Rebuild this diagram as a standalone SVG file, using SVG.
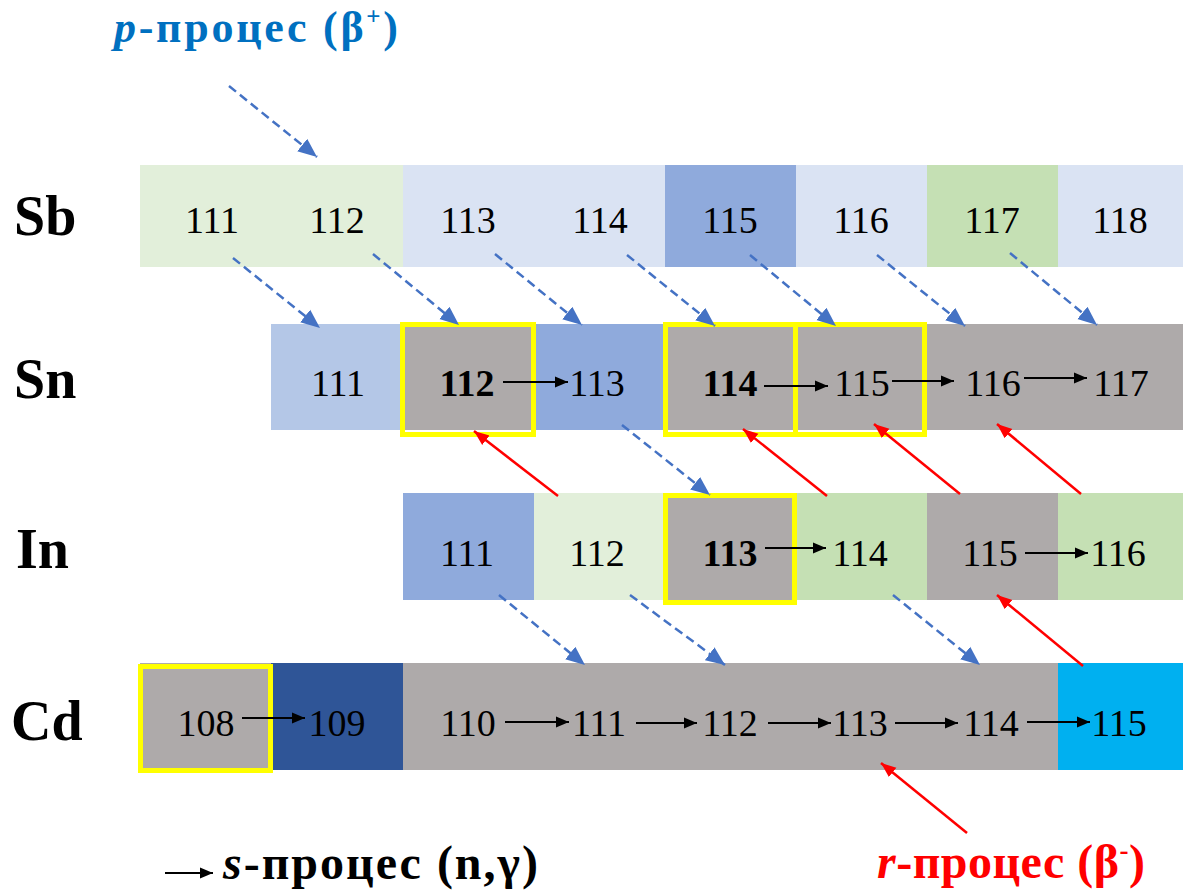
<svg xmlns="http://www.w3.org/2000/svg" width="1183" height="890" viewBox="0 0 1183 890">
<defs>
<style>
.num{font-family:"Liberation Serif","Times New Roman",serif;font-size:38px;fill:#000;text-anchor:middle}
.b{font-weight:bold}
.el{font-family:"Liberation Serif","Times New Roman",serif;font-size:56px;font-weight:bold;fill:#000}
.ttl{font-family:"Liberation Serif","Times New Roman",serif;font-weight:bold}
.hl{fill:none;stroke:#FFFF00;stroke-width:5}
.pb{stroke:#4472C4;stroke-width:2.5;stroke-dasharray:9 5;fill:none}
.rb{stroke:#FF0000;stroke-width:2.5;fill:none}
.sk{stroke:#000;stroke-width:2.2;fill:none}
</style>
<marker id="mb" markerUnits="userSpaceOnUse" markerWidth="20" markerHeight="18" refX="19" refY="9" orient="auto"><path d="M0,1 L19,9 L0,17 z" fill="#4472C4"/></marker>
<marker id="mr" markerUnits="userSpaceOnUse" markerWidth="16" markerHeight="14" refX="15" refY="7" orient="auto"><path d="M0,1 L15,7 L0,13 z" fill="#FF0000"/></marker>
<marker id="mk" markerUnits="userSpaceOnUse" markerWidth="14" markerHeight="12" refX="13" refY="6" orient="auto"><path d="M0,0.5 L13,6 L0,11.5 z" fill="#000"/></marker>
</defs>
<rect width="1183" height="890" fill="#fff"/>

<g id="titles">
<text class="ttl" x="114" y="42" font-size="44" fill="#0070C0" textLength="284" lengthAdjust="spacing"><tspan font-style="italic">p</tspan>-процес (β<tspan font-size="25" dy="-17">+</tspan><tspan dy="17">)</tspan></text>
<text class="ttl" x="223" y="879" font-size="48" fill="#000" textLength="315" lengthAdjust="spacing"><tspan font-style="italic">s</tspan>-процес (n,γ)</text>
<text class="ttl" x="877" y="878" font-size="48" fill="#FF0000" textLength="268" lengthAdjust="spacing"><tspan font-style="italic">r</tspan>-процес (β<tspan font-size="27" dy="-19">-</tspan><tspan dy="19">)</tspan></text>
</g>

<g id="labels">
<text class="el" x="14" y="235">Sb</text>
<text class="el" x="14" y="398">Sn</text>
<text class="el" x="16" y="568">In</text>
<text class="el" x="11" y="740">Cd</text>
</g>

<g id="row-Sb">
<g id="Sb111"><rect x="140" y="165" width="131" height="102" fill="#E2EFDA"/><text class="num" x="212" y="233">111</text></g>
<g id="Sb112"><rect x="271" y="165" width="132" height="102" fill="#E2EFDA"/><text class="num" x="337" y="233">112</text></g>
<g id="Sb113"><rect x="403" y="165" width="131" height="102" fill="#DAE3F3"/><text class="num" x="468" y="233">113</text></g>
<g id="Sb114"><rect x="534" y="165" width="131" height="102" fill="#DAE3F3"/><text class="num" x="600" y="233">114</text></g>
<g id="Sb115"><rect x="665" y="165" width="131" height="102" fill="#8FAADC"/><text class="num" x="730" y="233">115</text></g>
<g id="Sb116"><rect x="796" y="165" width="131" height="102" fill="#DAE3F3"/><text class="num" x="861" y="233">116</text></g>
<g id="Sb117"><rect x="927" y="165" width="131" height="102" fill="#C5E0B4"/><text class="num" x="992" y="233">117</text></g>
<g id="Sb118"><rect x="1058" y="165" width="125" height="102" fill="#DAE3F3"/><text class="num" x="1120" y="233">118</text></g>
</g>

<g id="row-Sn">
<g id="Sn111"><rect x="271" y="324" width="132" height="106" fill="#B4C7E7"/><text class="num" x="338" y="396">111</text></g>
<g id="Sn113"><rect x="534" y="324" width="131" height="106" fill="#8FAADC"/><text class="num" x="597" y="396">113</text></g>
<g id="Sn116"><rect x="927" y="324" width="131" height="106" fill="#AEAAAA"/><text class="num" x="993" y="396">116</text></g>
<g id="Sn117"><rect x="1058" y="324" width="125" height="106" fill="#AEAAAA"/><text class="num" x="1121" y="396">117</text></g>
<g id="Sn112"><rect x="403" y="324" width="131" height="106" fill="#AEAAAA"/><rect class="hl" x="402.5" y="324.5" width="131" height="110"/><text class="num b" x="467" y="396">112</text></g>
<g id="Sn114"><rect x="665" y="324" width="131" height="106" fill="#AEAAAA"/><rect class="hl" x="665.5" y="324.5" width="130" height="110"/><text class="num b" x="730" y="396">114</text></g>
<g id="Sn115"><rect x="796" y="324" width="131" height="106" fill="#AEAAAA"/><rect class="hl" x="795.5" y="324.5" width="129" height="110"/><text class="num" x="862" y="396">115</text></g>
</g>

<g id="row-In">
<g id="In111"><rect x="403" y="493" width="131" height="107" fill="#8FAADC"/><text class="num" x="467" y="566">111</text></g>
<g id="In112"><rect x="534" y="493" width="131" height="107" fill="#E2EFDA"/><text class="num" x="597" y="566">112</text></g>
<g id="In114"><rect x="796" y="493" width="131" height="107" fill="#C5E0B4"/><text class="num" x="860" y="566">114</text></g>
<g id="In115"><rect x="927" y="493" width="131" height="107" fill="#AEAAAA"/><text class="num" x="990" y="566">115</text></g>
<g id="In116"><rect x="1058" y="493" width="125" height="107" fill="#C5E0B4"/><text class="num" x="1118" y="566">116</text></g>
<g id="In113"><rect x="665" y="493" width="131" height="107" fill="#AEAAAA"/><rect class="hl" x="665.5" y="495.5" width="129" height="107"/><text class="num b" x="730" y="566">113</text></g>
</g>

<g id="row-Cd">
<g id="Cd109"><rect x="271" y="663" width="132" height="107" fill="#2F5597"/><text class="num" x="337" y="736">109</text></g>
<g id="Cd110-114"><rect x="403" y="663" width="655" height="107" fill="#AEAAAA"/>
<text class="num" x="468" y="736">110</text><text class="num" x="599" y="736">111</text><text class="num" x="730" y="736">112</text><text class="num" x="860" y="736">113</text><text class="num" x="991" y="736">114</text></g>
<g id="Cd115"><rect x="1058" y="663" width="125" height="107" fill="#00B0F0"/><text class="num" x="1119" y="736">115</text></g>
<g id="Cd108"><rect x="140" y="663" width="131" height="107" fill="#AEAAAA"/><rect class="hl" x="140.5" y="666.5" width="130" height="104"/><text class="num" x="206" y="736">108</text></g>
</g>

<g id="connectors">
<line class="pb" x1="229" y1="86" x2="317" y2="157" marker-end="url(#mb)"/>
<line class="pb" x1="233" y1="258" x2="320" y2="328" marker-end="url(#mb)"/>
<line class="pb" x1="373" y1="254" x2="459" y2="325" marker-end="url(#mb)"/>
<line class="pb" x1="495" y1="254" x2="582" y2="325" marker-end="url(#mb)"/>
<line class="pb" x1="627" y1="255" x2="715" y2="326" marker-end="url(#mb)"/>
<line class="pb" x1="750" y1="255" x2="836" y2="326" marker-end="url(#mb)"/>
<line class="pb" x1="877" y1="255" x2="965" y2="326" marker-end="url(#mb)"/>
<line class="pb" x1="1010" y1="253" x2="1097" y2="325" marker-end="url(#mb)"/>
<line class="pb" x1="622" y1="425" x2="710" y2="495" marker-end="url(#mb)"/>
<line class="pb" x1="499" y1="595" x2="585" y2="665" marker-end="url(#mb)"/>
<line class="pb" x1="630" y1="595" x2="725" y2="665" marker-end="url(#mb)"/>
<line class="pb" x1="893" y1="595" x2="980" y2="665" marker-end="url(#mb)"/>
<line class="rb" x1="558" y1="496" x2="474" y2="431" marker-end="url(#mr)"/>
<line class="rb" x1="827" y1="496" x2="743" y2="429" marker-end="url(#mr)"/>
<line class="rb" x1="960" y1="494" x2="874" y2="424" marker-end="url(#mr)"/>
<line class="rb" x1="1081" y1="494" x2="997" y2="424" marker-end="url(#mr)"/>
<line class="rb" x1="1083" y1="666" x2="997" y2="595" marker-end="url(#mr)"/>
<line class="rb" x1="967" y1="833" x2="881" y2="763" marker-end="url(#mr)"/>
<line class="sk" x1="503" y1="382" x2="568" y2="382" marker-end="url(#mk)"/>
<line class="sk" x1="764" y1="386" x2="828" y2="386" marker-end="url(#mk)"/>
<line class="sk" x1="892" y1="381" x2="954" y2="381" marker-end="url(#mk)"/>
<line class="sk" x1="1024" y1="378" x2="1087" y2="378" marker-end="url(#mk)"/>
<line class="sk" x1="765" y1="548" x2="826" y2="548" marker-end="url(#mk)"/>
<line class="sk" x1="1025" y1="553" x2="1088" y2="553" marker-end="url(#mk)"/>
<line class="sk" x1="242" y1="718" x2="305" y2="718" marker-end="url(#mk)"/>
<line class="sk" x1="505" y1="722" x2="569" y2="722" marker-end="url(#mk)"/>
<line class="sk" x1="636" y1="723" x2="697" y2="723" marker-end="url(#mk)"/>
<line class="sk" x1="768" y1="723" x2="831" y2="723" marker-end="url(#mk)"/>
<line class="sk" x1="895" y1="723" x2="958" y2="723" marker-end="url(#mk)"/>
<line class="sk" x1="1027" y1="722" x2="1090" y2="722" marker-end="url(#mk)"/>
<line class="sk" x1="165" y1="873" x2="213" y2="873" marker-end="url(#mk)"/>
</g>
</svg>
